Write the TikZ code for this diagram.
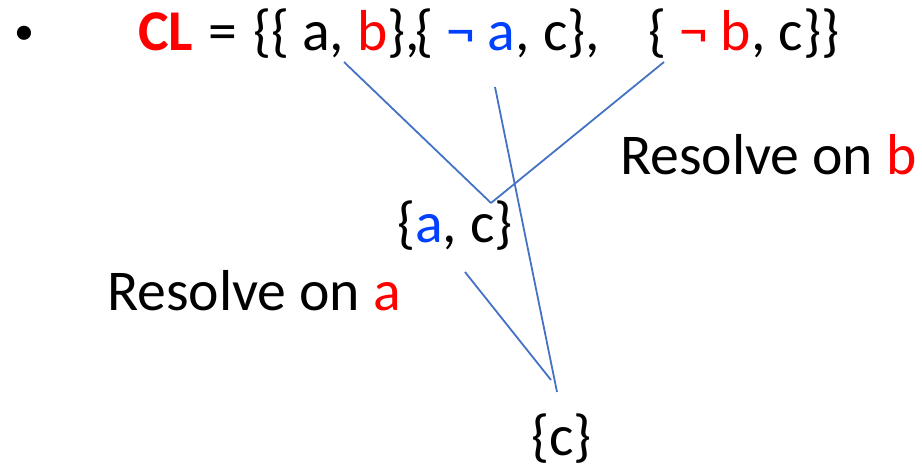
\documentclass[tikz,border=0pt]{standalone}
\usepackage{fontspec}
\setmainfont{Carlito}
\usepackage{tikz}
\usetikzlibrary{positioning}
\definecolor{cl-red}{HTML}{FF0000}
\definecolor{cl-blue}{HTML}{0040FF}
\definecolor{cl-line}{HTML}{4472C4}

\begin{document}
\begin{tikzpicture}[x=1pt, y=-1pt, inner sep=0pt, outer sep=0pt,
    txt/.style={anchor=base west, font=\fontsize{57.7}{69}\selectfont},
    res/.style={draw=cl-line, line width=1.8pt}]
    \useasboundingbox (0,0) rectangle (922,468);
    % Clause set
    \node[txt, font=\fontsize{40}{48}\selectfont] (bullet) at (14,45) {\textbullet};
    \node[txt] (CL) at (138,51) {\textcolor{cl-red}{\textbf{CL}}};
    \node[txt] (eq) at (208,51) {=};
    \node[txt] (ab) at (253,51) {\{\{ a, \textcolor{cl-red}{b}\},};
    \node[txt] (nac) at (415,51) {\{ \textcolor{cl-blue}{¬ a}, c\},};
    \node[txt] (nbc) at (648,51) {\{ \textcolor{cl-red}{¬ b}, c\}\}};

    % Resolvents
    \node[txt] (ac) at (397,243) {\{\textcolor{cl-blue}{a}, c\}};
    \node[txt] (c) at (531,455) {\{c\}};

    % Labels
    \node[txt] (onb) at (620,175) {Resolve on \textcolor{cl-red}{b}};
    \node[txt] (ona) at (107,310) {Resolve on \textcolor{cl-red}{a}};

    % End points
    \coordinate (ab-out) at (344,62);
    \coordinate (nbc-out) at (664,62);
    \coordinate (nac-out) at (495,87);
    \coordinate (ac-in) at (491,203);
    \coordinate (ac-out) at (465,272);
    \coordinate (c-in1) at (551,380);
    \coordinate (c-in2) at (557,392);

    % Resolution steps
    \draw[res] (ab-out) -- (ac-in);
    \draw[res] (nbc-out) -- (ac-in);
    \draw[res] (nac-out) -- (c-in2);
    \draw[res] (ac-out) -- (c-in1);
\end{tikzpicture}
\end{document}
